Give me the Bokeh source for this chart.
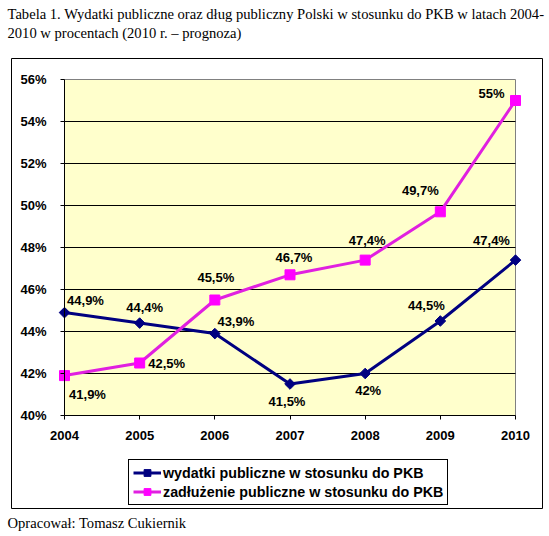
import math

from bokeh.core.properties import value
from bokeh.embed import file_html
from bokeh.models import (BoxAnnotation, FixedTicker, Label, Legend, LegendItem,
                          PrintfTickFormatter, Range1d)
from bokeh.plotting import figure
from bokeh.resources import INLINE

# ---- data -----------------------------------------------------------------
years = [2004, 2005, 2006, 2007, 2008, 2009, 2010]
wydatki = [44.9, 44.4, 43.9, 41.5, 42.0, 44.5, 47.4]        # wydatki publiczne, % PKB
zadluzenie = [41.9, 42.5, 45.5, 46.7, 47.4, 49.7, 55.0]     # zadłużenie publiczne, % PKB
y_ticks = [40, 42, 44, 46, 48, 50, 52, 54, 56]

title_lines = [
    "Tabela 1. Wydatki publiczne oraz dług publiczny Polski w stosunku do PKB w latach 2004-",
    "2010 w procentach (2010 r. – prognoza)",
]
footer = "Opracował: Tomasz Cukiernik"
series_names = ["wydatki publiczne w stosunku do PKB",
                "zadłużenie publiczne w stosunku do PKB"]

# pixel offsets of the value labels relative to their points
wyd_dx = [21, 5, 21, -3, 3, -14, -24]
wyd_dy = [-12, -16, -12, 17, 17, -16, -20]
zad_dx = [23, 27, 1, 4, 2, -20, -24]
zad_dy = [19, 0, -23, -17, -20, -21, -7]


def pct_label(v):
    return f"{v:g}".replace(".", ",") + "%"


# ---- layout ---------------------------------------------------------------
# The frame covers the whole canvas; the plot area sits inside it.
W, H = 549, 536
AREA_L, AREA_R, AREA_T, AREA_B = 64, 515, 79, 415   # plot area in canvas px
x_ppu = (AREA_R - AREA_L) / (years[-1] - years[0])
y_ppu = (AREA_B - AREA_T) / (y_ticks[-1] - y_ticks[0])
x_range = Range1d(years[0] - AREA_L / x_ppu, years[-1] + (W - AREA_R) / x_ppu)
y_range = Range1d(y_ticks[0] - (H - AREA_B) / y_ppu, y_ticks[-1] + AREA_T / y_ppu)

NAVY = "#000080"
MAGENTA = "#FF00FF"
MAGENTA_LINE = "#E020E0"
SANS = "Liberation Sans"
SERIF = "Liberation Serif"

p = figure(
    width=W, height=H, x_range=x_range, y_range=y_range,
    output_backend="svg", toolbar_location=None,
    min_border=0, min_border_left=0, min_border_right=0,
    min_border_top=0, min_border_bottom=0,
    background_fill_color="white", border_fill_color="white",
    outline_line_color=None,
)
p.xgrid.visible = False
p.ygrid.visible = False

# light yellow plot area with grey border
p.add_layout(BoxAnnotation(
    left=years[0], right=years[-1], bottom=y_ticks[0], top=y_ticks[-1],
    fill_color="#FFFFCC", fill_alpha=1.0,
    line_color="#808080", line_alpha=1.0, line_width=1, level="underlay"))

# horizontal gridlines across the plot area only
inner = y_ticks[1:-1]
p.segment(x0=[years[0]] * len(inner), x1=[years[-1]] * len(inner),
          y0=inner, y1=inner, line_color="black", line_width=1)

# axes, pinned to the plot area's left and bottom edges
for ax in (p.xaxis[0], p.yaxis[0]):
    ax.axis_line_color = "black"
    ax.axis_line_width = 1
    ax.major_tick_line_color = "black"
    ax.major_tick_out = 4
    ax.major_tick_in = 0
    ax.minor_tick_line_color = None
    ax.major_label_text_font = SANS
    ax.major_label_text_font_style = "bold"
    ax.major_label_text_font_size = "13px"
    ax.major_label_text_color = "black"

p.xaxis.ticker = FixedTicker(ticks=years)
p.xaxis.bounds = (years[0], years[-1])
p.xaxis.fixed_location = y_ticks[0]
p.xaxis.major_label_standoff = 11

p.yaxis.ticker = FixedTicker(ticks=y_ticks)
p.yaxis.formatter = PrintfTickFormatter(format="%d%%")
p.yaxis.bounds = (y_ticks[0], y_ticks[-1])
p.yaxis.fixed_location = years[0]
p.yaxis.major_label_standoff = 14

# series
l1 = p.line(years, wydatki, line_color=NAVY, line_width=3)
s1 = p.scatter(years, wydatki, marker="square", angle=math.pi / 4, size=7.5,
               fill_color=NAVY, line_color=NAVY)
l2 = p.line(years, zadluzenie, line_color=MAGENTA_LINE, line_width=3)
s2 = p.scatter(years, zadluzenie, marker="square", size=10,
               fill_color=MAGENTA, line_color=MAGENTA)

label_font = dict(text_font=value(SANS), text_font_style="bold",
                  text_font_size="13px", text_color="black",
                  text_align="center", text_baseline="middle")
p.text(x=years, y=wydatki, text=[pct_label(v) for v in wydatki],
       x_offset=wyd_dx, y_offset=wyd_dy, **label_font)
p.text(x=years, y=zadluzenie, text=[pct_label(v) for v in zadluzenie],
       x_offset=zad_dx, y_offset=zad_dy, **label_font)

# legend below the plot area
legend = Legend(
    items=[LegendItem(label=series_names[0], renderers=[l1, s1]),
           LegendItem(label=series_names[1], renderers=[l2, s2])],
    location=(128, H - 505),
    orientation="vertical",
    border_line_color="black", border_line_width=1, border_line_alpha=1.0,
    background_fill_color="white", background_fill_alpha=1.0,
    padding=4, spacing=2, margin=0,
    glyph_width=28, glyph_height=17, label_height=17, label_standoff=2,
    label_text_font=SANS, label_text_font_style="bold",
    label_text_font_size="14.3px", label_text_color="black",
)
p.add_layout(legend)


def canvas_label(x, y, text, **kw):
    """Place text at canvas pixel (x, y), y measured from the top."""
    p.add_layout(Label(x=x, y=H - y, x_units="screen", y_units="screen",
                       text=text, text_font=SERIF, text_font_size="14.6px",
                       text_color="black", text_align="left",
                       text_baseline="middle", **kw))


canvas_label(7, 13, title_lines[0])
canvas_label(7, 32, title_lines[1])
canvas_label(7, 522, footer)

# chart frame around plot and legend
p.add_layout(BoxAnnotation(
    left=11, right=542, top=H - 58, bottom=H - 508,
    left_units="screen", right_units="screen",
    top_units="screen", bottom_units="screen",
    fill_color=None, line_color="black", line_alpha=1.0, line_width=1))

open("out.html", "w").write(file_html(p, INLINE))
